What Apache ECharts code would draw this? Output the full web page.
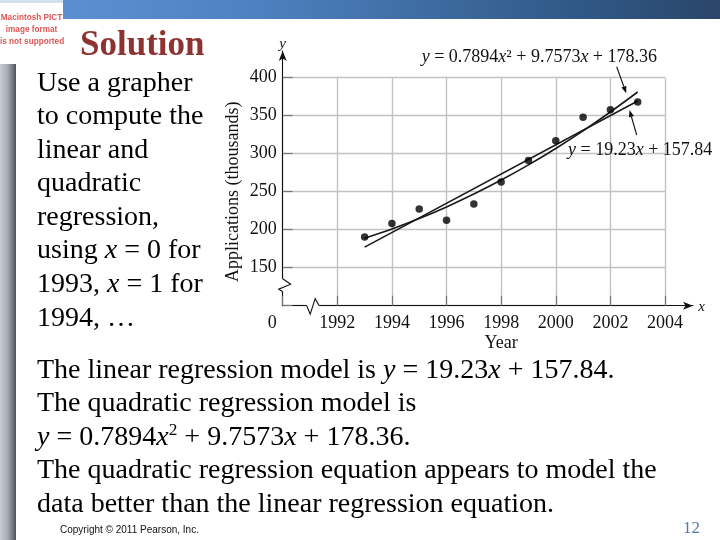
<!DOCTYPE html>
<html>
<head>
<meta charset="utf-8">
<script src="https://cdn.jsdelivr.net/npm/echarts/dist/echarts.min.js"></script>
<style>
  html, body { margin: 0; padding: 0; background: #fff; }
  #page { position: relative; width: 720px; height: 540px; overflow: hidden; background: #fff; }
  #chart { position: absolute; left: 0; top: 0; width: 720px; height: 540px; }
  .ov { position: absolute; z-index: 2; white-space: nowrap; }
  .serif { font-family: "Liberation Serif", "Times New Roman", serif; color: #000; }
  sup { font-size: 62%; line-height: 0; vertical-align: 0.55em; }
</style>
</head>
<body>
<div id="page">
  <div id="chart"></div>
  <div class="ov" style="left:0;top:0;width:63px;height:3px;background:#d3e0ee;"></div>
  <div class="ov" style="left:63px;top:0;width:657px;height:19px;background:linear-gradient(to right,#5a8fd1 0%,#4f84c4 25%,#4475ae 45%,#3a6698 62%,#2f5785 80%,#2a4668 100%);"></div>
  <div class="ov" style="left:0;top:64px;width:16px;height:476px;background:linear-gradient(to right,#c9ccd2 0%,#a9aeb5 45%,#7b8088 75%,#4c5057 100%);"></div>
  <div class="ov" style="left:0;top:12px;width:63px;text-align:center;font-family:'Liberation Sans',Arial,sans-serif;font-size:8.2px;font-weight:bold;line-height:12px;color:#dc5656;">Macintosh PICT<br>image format<br>is not supported</div>
  <div class="ov serif" style="left:80px;top:25.7px;font-size:35px;line-height:35px;font-weight:bold;color:#8f3232;">Solution</div>
  <div class="ov serif" style="left:37px;top:64.5px;font-size:28px;line-height:33.6px;">Use a grapher<br>to compute the<br>linear and<br>quadratic<br>regression,<br>using <i>x</i> = 0 for<br>1993, <i>x</i> = 1 for<br>1994, …</div>
  <div class="ov serif" style="left:37px;top:351.8px;font-size:28px;line-height:33.5px;">The linear regression model is <i>y</i> = 19.23<i>x</i> + 157.84.<br>The quadratic regression model is<br><i>y</i> = 0.7894<i>x</i><sup>2</sup> + 9.7573<i>x</i> + 178.36.<br>The quadratic regression equation appears to model the<br>data better than the linear regression equation.</div>
  <div class="ov" style="left:60px;top:524px;font-family:'Liberation Sans',Arial,sans-serif;font-size:10px;line-height:12px;color:#111;">Copyright © 2011 Pearson, Inc.</div>
  <div class="ov serif" style="left:683px;top:518px;font-size:17px;line-height:20px;color:#5577aa;">12</div>
</div>
<script>
// ---- data ----
const years = [1993, 1994, 1995, 1996, 1997, 1998, 1999, 2000, 2001, 2002, 2003];
const applications = [190.4, 208.3, 227.2, 212.3, 233.8, 262.7, 291.2, 317.1, 347.8, 357.9, 368.0];
const quadraticFit = [188.9, 201.0, 214.7, 230.0, 246.9, 265.3, 285.3, 306.9, 330.1, 354.9, 381.2];
const linearFitYears = [1993, 2003];
const linearFit = [177.1, 369.4];
const xTickLabels = ['0', '1992', '1994', '1996', '1998', '2000', '2002', '2004'];
const yTickLabels = ['', '150', '200', '250', '300', '350', '400'];
const quadraticLabel = 'y = 0.7894x² + 9.7573x + 178.36';
const linearLabel = 'y = 19.23x + 157.84';

const SERIF = '"Liberation Serif", "Times New Roman", serif';
const chart = echarts.init(document.getElementById('chart'), null, { renderer: 'canvas' });

function richEq(s) {
  // italicise the variables x and y
  return s.replace(/([xy])/g, '{i|$1}');
}

const gridLine = { color: '#c2c2c2', width: 1.4 };
const tickStyle = { color: '#777', width: 1.2 };

chart.setOption({
  animation: false,
  grid: [
    { left: 282.7, right: 55, top: 77.7, bottom: 234.3 },
    { left: 282.7, right: 27, top: 51, bottom: 234.3 }
  ],
  xAxis: [
    {
      type: 'value', gridIndex: 0, min: 1990, max: 2004, interval: 2,
      axisLine: { show: false },
      axisTick: { show: true, inside: true, length: 10, lineStyle: tickStyle },
      splitLine: { show: true, lineStyle: gridLine },
      axisLabel: {
        margin: 9, fontFamily: SERIF, fontSize: 18, color: '#111',
        formatter: function (v) {
          const idx = Math.round((v - 1990) / 2);
          const t = xTickLabels[idx];
          return idx === 0 ? '{z|' + t + '}' : t;
        },
        rich: { z: { fontFamily: SERIF, fontSize: 18, color: '#111', padding: [0, 21, 0, 0] } }
      }
    },
    {
      type: 'value', gridIndex: 1, min: 0, max: 1,
      axisLine: { show: true, onZero: false, symbol: ['none', 'arrow'], symbolSize: [6, 10], lineStyle: { color: '#111', width: 1.1 } },
      axisTick: { show: false }, axisLabel: { show: false }, splitLine: { show: false }
    }
  ],
  yAxis: [
    {
      type: 'value', gridIndex: 0, min: 100, max: 400, interval: 50,
      name: 'Applications (thousands)', nameLocation: 'middle', nameRotate: 90, nameGap: 40,
      nameMoveOverlap: false,
      nameTextStyle: { fontFamily: SERIF, fontSize: 18, color: '#111' },
      axisLine: { show: false },
      axisTick: { show: true, inside: true, length: 10, lineStyle: tickStyle },
      splitLine: { show: true, lineStyle: gridLine },
      axisLabel: {
        margin: 6, fontFamily: SERIF, fontSize: 18, color: '#111',
        formatter: function (v) { return yTickLabels[Math.round((v - 100) / 50)]; }
      }
    },
    {
      type: 'value', gridIndex: 1, min: 0, max: 1,
      axisLine: { show: true, onZero: false, symbol: ['none', 'arrow'], symbolSize: [6, 10], lineStyle: { color: '#111', width: 1.1 } },
      axisTick: { show: false }, axisLabel: { show: false }, splitLine: { show: false }
    }
  ],
  series: [
    {
      name: 'Quadratic model', type: 'line', xAxisIndex: 0, yAxisIndex: 0,
      data: years.map((y, i) => [y, quadraticFit[i]]),
      smooth: 0.3, showSymbol: false, lineStyle: { color: '#1a1a1a', width: 1.6 }, z: 3
    },
    {
      name: 'Linear model', type: 'line', xAxisIndex: 0, yAxisIndex: 0,
      data: linearFitYears.map((y, i) => [y, linearFit[i]]),
      showSymbol: false, lineStyle: { color: '#1a1a1a', width: 1.6 }, z: 3
    },
    {
      name: 'Applications', type: 'scatter', xAxisIndex: 0, yAxisIndex: 0,
      data: years.map((y, i) => [y, applications[i]]),
      symbolSize: 7.5, itemStyle: { color: '#000' }, z: 4
    }
  ]
});

// ---- decorations: axis breaks, axis letters, equation labels, pointer arrows ----
const o = chart.convertToPixel({ gridIndex: 0 }, [1990, 100]);
const yearPx = chart.convertToPixel({ gridIndex: 0 }, [1998, 100]);
const qTip = chart.convertToPixel({ gridIndex: 0 }, [2002.58, 379.5]);
const lTip = chart.convertToPixel({ gridIndex: 0 }, [2002.7, 357.5]);
const ox = o[0], oy = o[1];

function arrow(from, to) {
  const ang = Math.atan2(to[1] - from[1], to[0] - from[0]);
  const L = 7, W = 2.6;
  const bx = to[0] - L * Math.cos(ang), by = to[1] - L * Math.sin(ang);
  const px = -Math.sin(ang) * W, py = Math.cos(ang) * W;
  return [
    { type: 'line', z: 10, shape: { x1: from[0], y1: from[1], x2: bx, y2: by }, style: { stroke: '#111', lineWidth: 1.1 } },
    { type: 'polygon', z: 10, shape: { points: [[to[0], to[1]], [bx + px, by + py], [bx - px, by - py]] }, style: { fill: '#111' } }
  ];
}

const eqRich = { i: { fontFamily: SERIF, fontSize: 18, fontStyle: 'italic', fill: '#111' } };

chart.setOption({
  graphic: [
    { type: 'rect', z: 9, shape: { x: ox - 2.5, y: oy - 27, width: 5, height: 13 }, style: { fill: '#fff' } },
    { type: 'polyline', z: 10, shape: { points: [[ox, oy - 27], [ox + 8, oy - 21.5], [ox - 4, oy - 16.5], [ox, oy - 14]] }, style: { stroke: '#111', lineWidth: 1.1, fill: null } },
    { type: 'rect', z: 9, shape: { x: ox + 24, y: oy - 2.5, width: 12.5, height: 5 }, style: { fill: '#fff' } },
    { type: 'polyline', z: 10, shape: { points: [[ox + 24, oy], [ox + 27.5, oy + 8.5], [ox + 32.5, oy - 7], [ox + 36.5, oy]] }, style: { stroke: '#111', lineWidth: 1.1, fill: null } },
    { type: 'text', z: 10, style: { text: 'y', x: ox, y: 44, font: 'italic 15px ' + SERIF, fill: '#111', align: 'center', verticalAlign: 'middle' } },
    { type: 'text', z: 10, style: { text: 'x', x: 701.7, y: oy + 1, font: 'italic 15px ' + SERIF, fill: '#111', align: 'center', verticalAlign: 'middle' } },
    { type: 'text', z: 10, style: { text: 'Year', x: yearPx[0], y: 343.3, font: '18px ' + SERIF, fill: '#111', align: 'center', verticalAlign: 'middle' } },
    { type: 'text', z: 10, style: { text: richEq(quadraticLabel), x: 421.7, y: 57.3, font: '18px ' + SERIF, fill: '#111', align: 'left', verticalAlign: 'middle', rich: eqRich } },
    { type: 'text', z: 10, style: { text: richEq(linearLabel), x: 568, y: 150.5, font: '18px ' + SERIF, fill: '#111', align: 'left', verticalAlign: 'middle', rich: eqRich } }
  ].concat(arrow([616.7, 66.7], qTip), arrow([636.7, 135], lTip))
});
</script>
</body>
</html>
